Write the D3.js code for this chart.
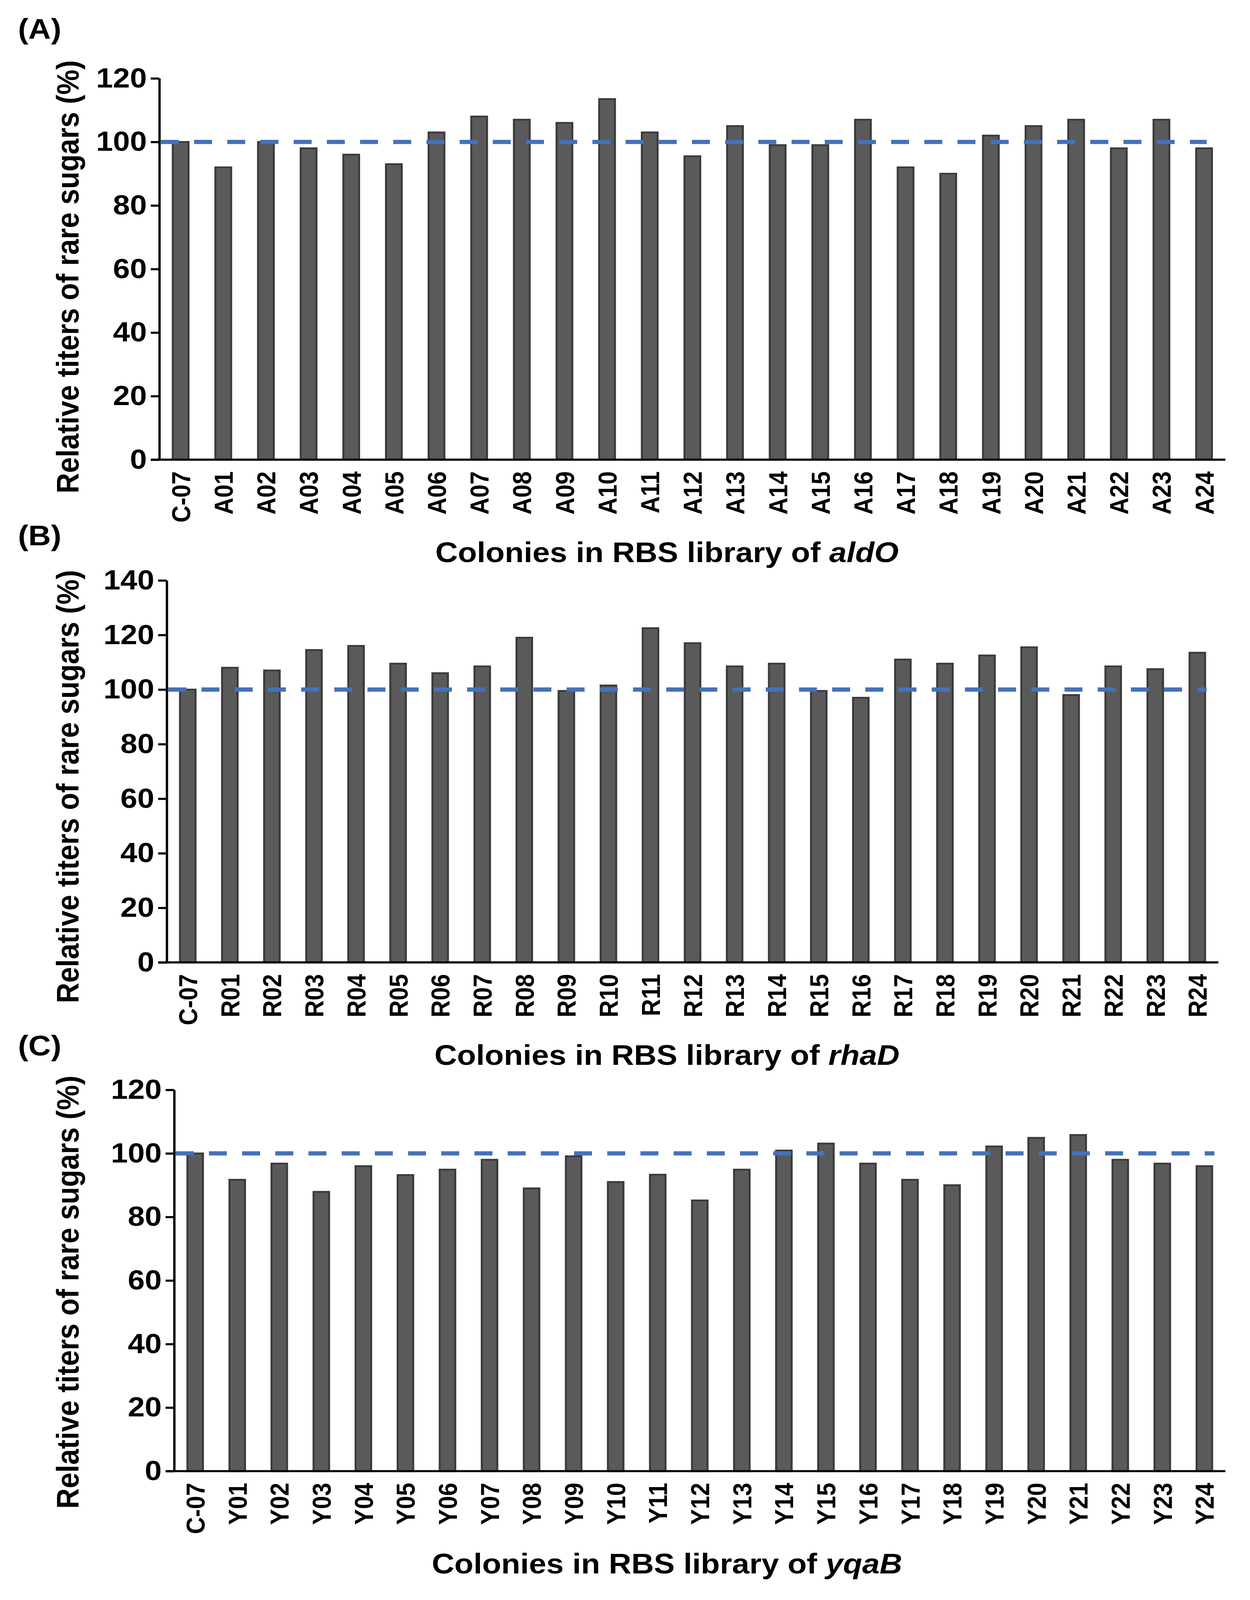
<!DOCTYPE html>
<html>
<head>
<meta charset="utf-8">
<script src="https://cdn.jsdelivr.net/npm/d3@7"></script>
<style>
  html, body { margin: 0; padding: 0; background: #ffffff; overflow: hidden; }
  svg { display: block; }
  text { font-family: "Liberation Sans", Arial, sans-serif; font-weight: bold; fill: #000; }
</style>
</head>
<body>
<svg id="chart"></svg>
<script>
// ---- data ----
const catsA = ["C-07","A01","A02","A03","A04","A05","A06","A07","A08","A09","A10","A11","A12","A13","A14","A15","A16","A17","A18","A19","A20","A21","A22","A23","A24"];
const valsA = [100,92,100,98,96,93,103,108,107,106,113.5,103,95.5,105,99,99,107,92,90,102,105,107,98,107,98];

const catsB = ["C-07","R01","R02","R03","R04","R05","R06","R07","R08","R09","R10","R11","R12","R13","R14","R15","R16","R17","R18","R19","R20","R21","R22","R23","R24"];
const valsB = [100,108,107,114.5,116,109.5,106,108.5,119,99.5,101.5,122.5,117,108.5,109.5,99.5,97,111,109.5,112.5,115.5,98,108.5,107.5,113.5];

const catsC = ["C-07","Y01","Y02","Y03","Y04","Y05","Y06","Y07","Y08","Y09","Y10","Y11","Y12","Y13","Y14","Y15","Y16","Y17","Y18","Y19","Y20","Y21","Y22","Y23","Y24"];
const valsC = [100,91.7,96.8,87.9,96,93.2,94.9,98,89,99.1,91,93.3,85.2,94.9,100.9,103.1,96.8,91.7,90,102.2,104.9,105.8,98,96.8,96];

const ticksA = [0,20,40,60,80,100,120];
const ticksB = [0,20,40,60,80,100,120,140];
const ticksC = [0,20,40,60,80,100,120];

const refLine = 100;
const yTitle = "Relative titers of rare sugars (%)";
const xTitlePrefix = "Colonies in RBS library of ";

// ---- layout ----
const W = 3201, H = 4532;
const panels = [
  { label: "(A)", gene: "aldO", cats: catsA, vals: valsA, ticks: ticksA,
    axisX: 408, axisEnd: 3138, y0: 1302, yTop: 222, labelY: 110, yTitleCY: 784, dashEnd: 3090 },
  { label: "(B)", gene: "rhaD", cats: catsB, vals: valsB, ticks: ticksB,
    axisX: 427, axisEnd: 3120, y0: 2726, yTop: 1644, labelY: 1545, yTitleCY: 2228, dashEnd: 3090 },
  { label: "(C)", gene: "yqaB", cats: catsC, vals: valsC, ticks: ticksC,
    axisX: 446, axisEnd: 3138, y0: 4167, yTop: 3087, labelY: 2990, yTitleCY: 3660, dashEnd: 3110 }
];

// fit the whole figure into the visible window
const vw = window.innerWidth || W;
const vh = window.innerHeight || H;
const svg = d3.select("#chart")
  .attr("width", Math.min(vw, W))
  .attr("height", Math.min(vh, H))
  .attr("viewBox", `0 0 ${W} ${H}`)
  .attr("preserveAspectRatio", "none");

svg.append("rect").attr("width", W).attr("height", H).attr("fill", "#fff");

panels.forEach(p => {
  const g = svg.append("g");
  const yMax = d3.max(p.ticks);
  const y = d3.scaleLinear().domain([0, yMax]).range([p.y0, p.yTop]);
  const x = d3.scaleBand().domain(p.cats).range([p.axisX, p.axisEnd])
              .paddingInner(0.63).paddingOuter(0.315);

  // bars
  g.selectAll("rect.bar").data(p.vals).enter().append("rect")
    .attr("class", "bar")
    .attr("x", (d, i) => x(p.cats[i]))
    .attr("width", x.bandwidth())
    .attr("y", d => y(d))
    .attr("height", d => y(0) - y(d))
    .attr("fill", "#5a5a5a")
    .attr("stroke", "#3a3a3a")
    .attr("stroke-width", 5);

  // reference dashed line
  g.append("line")
    .attr("x1", p.axisX + 4).attr("x2", p.dashEnd)
    .attr("y1", y(refLine)).attr("y2", y(refLine))
    .attr("stroke", "#4472b8").attr("stroke-width", 12)
    .attr("stroke-dasharray", "46,39");

  // y axis
  const yAxis = d3.axisLeft(y).tickValues(p.ticks).tickSize(22).tickPadding(10).tickSizeOuter(0);
  const ya = g.append("g").attr("transform", `translate(${p.axisX},0)`).call(yAxis);
  ya.select(".domain").attr("stroke", "#000").attr("stroke-width", 6);
  ya.selectAll(".tick line").attr("stroke", "#000").attr("stroke-width", 6);
  ya.selectAll(".tick text")
    .style("font-family", '"Liberation Sans", Arial, sans-serif')
    .style("font-weight", "bold").style("font-size", "78px").attr("fill", "#000");

  // x axis
  const xAxis = d3.axisBottom(x).tickSize(0).tickPadding(0);
  const xa = g.append("g").attr("transform", `translate(0,${p.y0})`).call(xAxis);
  xa.select(".domain").remove();
  xa.selectAll(".tick text")
    .style("font-family", '"Liberation Sans", Arial, sans-serif')
    .style("font-weight", "bold").style("font-size", "67px").attr("fill", "#000")
    .attr("text-anchor", "end")
    .attr("transform", "rotate(-90)")
    .attr("x", -33).attr("y", 0).attr("dy", "0.36em");
  g.append("line")
    .attr("x1", p.axisX - 22).attr("x2", p.axisEnd)
    .attr("y1", p.y0).attr("y2", p.y0)
    .attr("stroke", "#000").attr("stroke-width", 6);

  // y title
  g.append("text")
    .attr("transform", `translate(201,${p.yTitleCY}) rotate(-90)`)
    .attr("text-anchor", "middle")
    .style("font-size", "80px")
    .text(yTitle);

  // x title
  const xt = g.append("text")
    .attr("x", 1708).attr("y", p.y0 + 290)
    .attr("text-anchor", "middle")
    .style("font-size", "80px");
  xt.append("tspan").text(xTitlePrefix);
  xt.append("tspan").style("font-style", "italic").text(p.gene);

  // panel label
  svg.append("text")
    .attr("x", 46).attr("y", p.labelY)
    .style("font-size", "80px")
    .text(p.label);
});
</script>
</body>
</html>
